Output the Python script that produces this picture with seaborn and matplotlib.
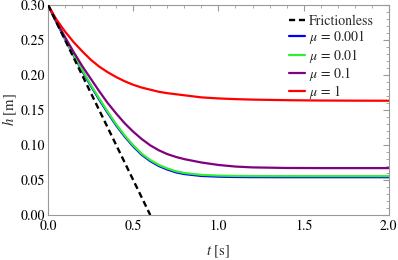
import numpy as np
import pandas as pd
import matplotlib
matplotlib.use("Agg")
import matplotlib.pyplot as plt
from matplotlib.ticker import MultipleLocator, FormatStrFormatter
import seaborn as sns

# valores
t_free = [0.0, 0.6]
h_free = [0.30, 0.0]

t_vals = [0.0, 0.05, 0.1, 0.15, 0.2, 0.25, 0.3, 0.35, 0.4, 0.45, 0.5, 0.55,
          0.6, 0.65, 0.7, 0.75, 0.8, 0.9, 1.0, 1.1, 1.2, 1.4, 1.6, 1.8, 2.0]

h_mu0001 = [0.300, 0.275, 0.251, 0.228, 0.206, 0.185, 0.165, 0.146, 0.128, 0.112, 0.098, 0.086,
            0.077, 0.070, 0.065, 0.061, 0.0585, 0.0558, 0.0548, 0.0543, 0.0541, 0.054, 0.054, 0.054, 0.054]
h_mu001 = [0.300, 0.2755, 0.252, 0.229, 0.2075, 0.1865, 0.1665, 0.1475, 0.1295, 0.1135, 0.0995, 0.0875,
           0.0785, 0.0715, 0.0665, 0.0625, 0.060, 0.0573, 0.0563, 0.0558, 0.0556, 0.0555, 0.0555, 0.0555, 0.0555]
h_mu01 = [0.300, 0.276, 0.254, 0.233, 0.213, 0.195, 0.177, 0.160, 0.145, 0.131, 0.119, 0.1085,
          0.0995, 0.0925, 0.087, 0.083, 0.0798, 0.075, 0.0715, 0.0692, 0.068, 0.0672, 0.067, 0.067, 0.067]
h_mu1 = [0.300, 0.279, 0.262, 0.247, 0.234, 0.222, 0.212, 0.204, 0.197, 0.191, 0.186, 0.182,
         0.179, 0.176, 0.174, 0.1725, 0.171, 0.168, 0.1665, 0.1655, 0.1648, 0.164, 0.1635, 0.1633, 0.1632]

labels = ["Frictionless", r"$\mu$ = 0.001", r"$\mu$ = 0.01", r"$\mu$ = 0.1", r"$\mu$ = 1"]
colores = ["black", "#0000ff", "#33ee33", "#800080", "#ff0000"]

sns.set_style("white")
# fuente tipo Times (STIX viene con matplotlib)
plt.rcParams['font.family'] = 'STIXGeneral'
plt.rcParams['mathtext.fontset'] = 'stix'

fig = plt.figure(figsize=(3.98, 2.6), dpi=100)
ax = fig.add_axes([0.1206, 0.173, 0.8564, 0.808])

# friccion nula (linea discontinua)
sns.lineplot(x=t_free, y=h_free, ax=ax, color=colores[0], lw=1.7,
             label=labels[0], zorder=5)
ax.lines[-1].set_dashes((2.6, 1.6))

series = [h_mu0001, h_mu001, h_mu01, h_mu1]
for h, lab, c in zip(series, labels[1:], colores[1:]):
    sns.lineplot(x=t_vals, y=h, ax=ax, color=c, lw=1.6, label=lab,
                 estimator=None, sort=False)

ax.set_xlim(0, 2.0)
ax.set_ylim(0, 0.30)
ax.xaxis.set_major_locator(MultipleLocator(0.5))
ax.xaxis.set_minor_locator(MultipleLocator(0.1))
ax.yaxis.set_major_locator(MultipleLocator(0.05))
ax.yaxis.set_minor_locator(MultipleLocator(0.01))
ax.xaxis.set_major_formatter(FormatStrFormatter('%.1f'))
ax.yaxis.set_major_formatter(FormatStrFormatter('%.2f'))
ax.tick_params(which='both', direction='in', top=True, right=True,
               color='#999999', labelsize=10, labelcolor='black', pad=2)
ax.tick_params(axis='x', pad=3)
ax.tick_params(which='major', length=4, width=0.8)
ax.tick_params(which='minor', length=2, width=0.6)
for s in ax.spines.values():
    s.set_color('#999999')
    s.set_linewidth(0.8)

ax.set_xlabel(r"$t$ [s]", fontsize=10.5, labelpad=8)
ax.set_ylabel(r"$h$ [m]", fontsize=10.5, labelpad=1)

ax.legend(loc='upper right', frameon=False, fontsize=10, handlelength=1.15,
          handletextpad=0.3, labelspacing=0.02, borderaxespad=0.3,
          bbox_to_anchor=(0.985, 1.0))

fig.savefig("out.png", dpi=100)
